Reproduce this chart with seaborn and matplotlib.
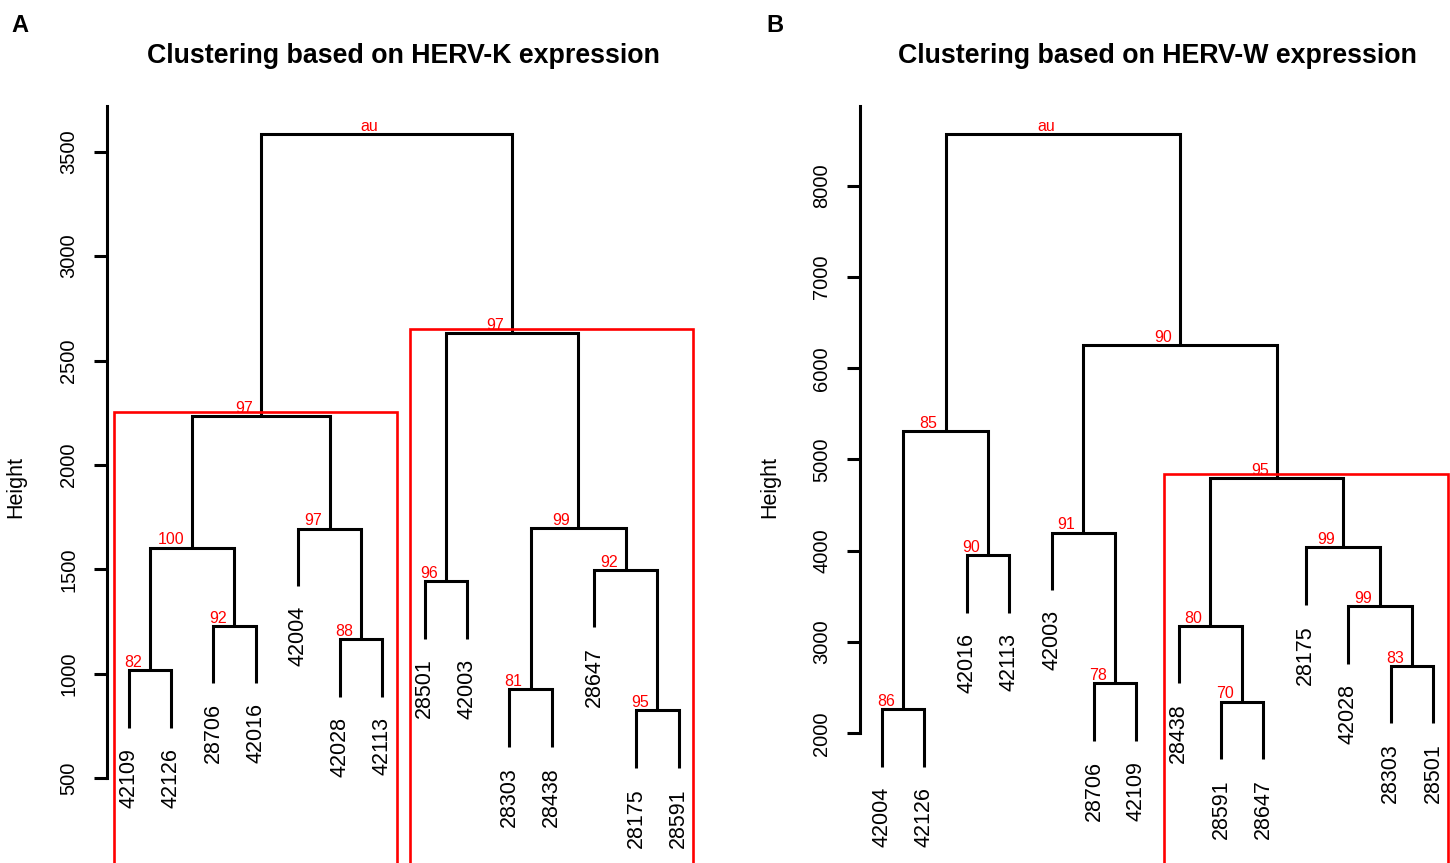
import matplotlib
matplotlib.use("Agg")
import matplotlib.pyplot as plt
import seaborn as sns

# =====================================================
# Data (leaf order as plotted, R hclust-style merges)
# negative = leaf position, positive = earlier merge row
# =====================================================

leaves_k = ["42109", "42126", "28706", "42016", "42004", "42028", "42113",
            "28501", "42003", "28303", "28438", "28647", "28175", "28591"]
merge_k = [(-1, -2), (-3, -4), (-6, -7), (-8, -9), (-10, -11), (-13, -14),
           (-12, 6), (1, 2), (-5, 3), (5, 7), (8, 9), (4, 10), (11, 12)]
height_k = [1018, 1230, 1167, 1445, 926, 825, 1498, 1605, 1696, 1698,
            2234, 2631, 3584]
au_k = ["82", "92", "88", "96", "81", "95", "92", "100", "97", "99",
        "97", "97", "au"]
rect_k = [11, 12]
yticks_k = [500, 1000, 1500, 2000, 2500, 3000, 3500]

leaves_w = ["42004", "42126", "42016", "42113", "42003", "28706", "42109",
            "28438", "28591", "28647", "28175", "42028", "28303", "28501"]
merge_w = [(-1, -2), (-3, -4), (-6, -7), (-9, -10), (-13, -14), (-5, 3),
           (-8, 4), (-12, 5), (-11, 8), (7, 9), (1, 2), (6, 10), (11, 12)]
height_w = [2263, 3950, 2548, 2348, 2742, 4200, 3179, 3393, 4037, 4797,
            5315, 6250, 8563]
au_w = ["86", "90", "78", "70", "83", "91", "80", "99", "99", "95",
        "85", "90", "au"]
rect_w = [10]
yticks_w = [2000, 3000, 4000, 5000, 6000, 7000, 8000]

# =====================================================
# Style
# =====================================================

sns.set_theme(style="ticks")
plt.rcParams["font.family"] = ["Liberation Sans", "DejaVu Sans"]
plt.rcParams["text.color"] = "black"
plt.rcParams["axes.labelcolor"] = "black"

LW = 2.2
W, H = 1450, 863

fig = plt.figure(figsize=(W / 100, H / 100), dpi=100)


def draw_dendro(ax, leaves, merge, height, au, rects, yticks, ylim):
    n = len(leaves)
    ywd = ylim[1] - ylim[0]
    hang = 0.1 * (max(height) - min(height))
    node_x = {}
    members = {}

    for i, (a, b) in enumerate(merge, start=1):
        h = height[i - 1]
        xs, ys, mem = [], [], []
        for c in (a, b):
            if c < 0:
                xs.append(-c)
                ys.append(h - hang)
                mem.append(-c)
                ax.annotate(leaves[-c - 1], (-c, h - hang), xytext=(0, -14.4),
                            textcoords="offset points", rotation=90,
                            ha="center", va="top", fontsize=15.5,
                            color="black")
            else:
                xs.append(node_x[c])
                ys.append(height[c - 1])
                mem.extend(members[c])
        ax.plot([xs[0], xs[0], xs[1], xs[1]], [ys[0], h, h, ys[1]],
                color="black", lw=LW, solid_joinstyle="miter",
                solid_capstyle="butt")
        node_x[i] = (xs[0] + xs[1]) / 2
        members[i] = mem
        ax.annotate(au[i - 1], (node_x[i], h + 0.01 * ywd), xytext=(-5.8, 0),
                    textcoords="offset points", ha="right", va="center",
                    color="red", fontsize=11.5)

    # pvrect-style boxes
    mx = (n + 0.04 * (n - 1)) / n / 3
    my = ywd / 200
    for r in rects:
        xl = min(members[r]) - mx
        xr = max(members[r]) + mx
        yt = height[r - 1] + my
        yb = ylim[0] - 0.05 * ywd
        ax.plot([xl, xl, xr, xr], [yb, yt, yt, yb], color="red", lw=1.9,
                solid_joinstyle="miter", clip_on=False)

    ax.set_xlim(0.48, n + 0.52)
    ax.set_ylim(*ylim)
    ax.set_xticks([])
    ax.set_yticks(yticks)
    ax.set_yticklabels([str(t) for t in yticks])
    ax.tick_params(axis="y", length=9.6, width=LW, pad=11, labelsize=14.5,
                   labelrotation=90, color="black", labelcolor="black")
    for lab in ax.get_yticklabels():
        lab.set_va("center")
    for s in ["top", "right", "bottom"]:
        ax.spines[s].set_visible(False)
    ax.spines["left"].set_linewidth(LW)
    ax.spines["left"].set_color("black")
    ax.spines["left"].set_bounds(yticks[0], ylim[1])
    ax.set_facecolor("white")
    ax.grid(False)


# =====================================================
# Panel A
# =====================================================

ax1 = fig.add_axes([106.7 / W, 0, 593.9 / W, (H - 106) / H])
draw_dendro(ax1, leaves_k, merge_k, height_k, au_k, rect_k, yticks_k,
            (94.5, 3719))

# =====================================================
# Panel B
# =====================================================

ax2 = fig.add_axes([860 / W, 0, 595 / W, (H - 106) / H])
draw_dendro(ax2, leaves_w, merge_w, height_w, au_w, rect_w, yticks_w,
            (579, 8873))

# =====================================================
# Titles & labels
# =====================================================

fig.text(403.6 / W, 1 - 63.3 / H, "Clustering based on HERV-K expression",
         ha="center", va="baseline", fontsize=19.3, fontweight="bold")
fig.text(1157.5 / W, 1 - 63.3 / H, "Clustering based on HERV-W expression",
         ha="center", va="baseline", fontsize=19.3, fontweight="bold")

fig.text(11 / W, 1 - 32 / H, "A", ha="left", va="baseline",
         fontsize=17, fontweight="bold")
fig.text(766 / W, 1 - 32 / H, "B", ha="left", va="baseline",
         fontsize=17, fontweight="bold")

fig.text(16 / W, 1 - 487 / H, "Height", rotation=90, ha="center",
         va="center", fontsize=15.5)
fig.text(770 / W, 1 - 487 / H, "Height", rotation=90, ha="center",
         va="center", fontsize=15.5)

fig.savefig("out.png", dpi=100, facecolor="white")
